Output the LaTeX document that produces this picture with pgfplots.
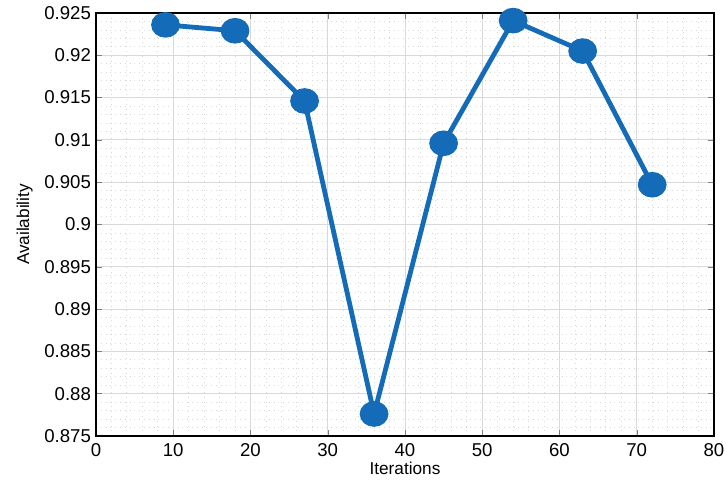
\documentclass[border=0pt]{standalone}
\usepackage{pgfplots}
\pgfplotsset{compat=1.18}
\usepackage{fontspec}
\setmainfont{Liberation Sans}
\definecolor{mblue}{rgb}{0.08,0.42,0.72}
\begin{document}
\begin{tikzpicture}
\useasboundingbox (-48pt,-24.5pt) rectangle (314.5pt,218pt);
\begin{axis}[
  scale only axis,
  width=309pt, height=211.5pt,
  xmin=0, xmax=80, ymin=0.875, ymax=0.925,
  xtick={0,10,...,80},
  ytick={0.875,0.88,0.885,0.89,0.895,0.9,0.905,0.91,0.915,0.92,0.925},
  yticklabels={0.875,0.88,0.885,0.89,0.895,0.9,0.905,0.91,0.915,0.92,0.925},
  minor tick num=4,
  tick align=inside,
  tick pos=both,
  major tick length=3pt,
  minor tick length=0pt,
  grid=both,
  major grid style={gray!30, line width=0.4pt},
  minor grid style={gray!30, dotted, line width=0.4pt},
  axis line style={black, line width=0.6pt},
  ticklabel style={font=\fontsize{9.3}{10}\selectfont},
  yticklabel style={xshift=1pt},
  /pgf/number format/assume math mode=true,
  label style={font=\fontsize{8.6}{10}\selectfont},
  xlabel={Iterations},
  ylabel={Availability},
  xlabel style={yshift=4pt},
  ylabel style={yshift=-1pt},
]
\addplot[mblue, line width=2.4pt, mark=*, mark size=5.2pt, mark options={xscale=1.15, fill=mblue}] coordinates {
(9,0.9236) (18,0.9229) (27,0.9146) (36,0.8776) (45,0.9096) (54,0.9241) (63,0.9205) (72,0.9047)
};
\end{axis}
\end{tikzpicture}
\end{document}
